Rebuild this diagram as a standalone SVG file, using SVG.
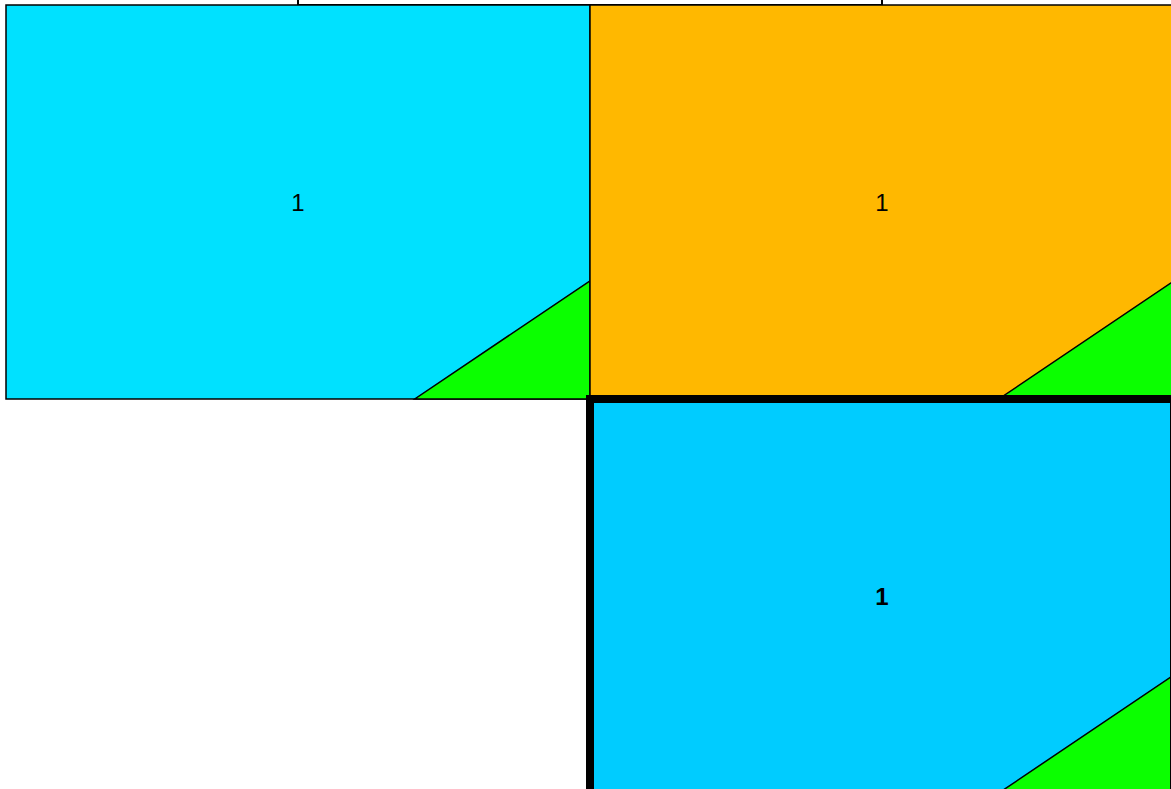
<svg xmlns="http://www.w3.org/2000/svg" width="1171" height="789" viewBox="0 0 1171 789">
<style>
.box{stroke:#000;stroke-width:1.5}
.tri{fill:#0BFF00;stroke:#000;stroke-width:1.5;stroke-linejoin:miter}
.lbl{font-family:"Liberation Sans",Arial,sans-serif;font-size:24px;fill:#000;text-anchor:middle}
</style>
<rect width="1171" height="789" fill="#fff"/>
<g id="node-top">
<rect class="box" x="298" y="-389" width="584" height="394" fill="#fff" style="stroke-width:2"/>
</g>
<g id="node-left">
<rect class="box" x="6" y="5" width="584" height="394" fill="#00E1FF"/>
<polygon class="tri" points="414.8,399 590,399 590,280.8"/>
<text class="lbl" x="298" y="210.6">1</text>
</g>
<g id="node-right">
<rect class="box" x="590" y="5" width="584" height="394" fill="#FFB800"/>
<polygon class="tri" points="998.8,399 1174,399 1174,280.8"/>
<text class="lbl" x="882" y="210.6">1</text>
</g>
<g id="node-bottom">
<rect x="590" y="399" width="584" height="394" fill="#00CCFF"/>
<polygon class="tri" points="998.8,793 1174,793 1174,674.8"/>
<rect x="590" y="399" width="584" height="394" fill="none" stroke="#000" stroke-width="8"/>
<text class="lbl" x="882" y="604.6" font-weight="bold">1</text>
</g>
<g id="connectors"/>
</svg>
